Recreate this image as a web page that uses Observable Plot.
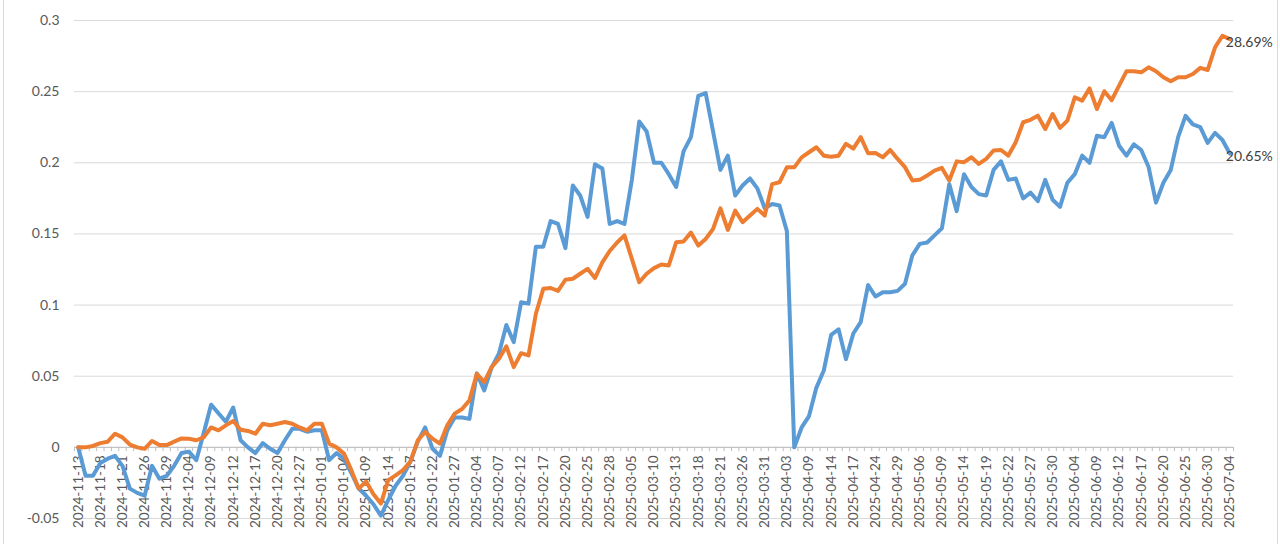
<!DOCTYPE html>
<html>
<head>
<meta charset="utf-8">
<script src="https://cdn.jsdelivr.net/npm/d3@7"></script>
<script src="https://cdn.jsdelivr.net/npm/@observablehq/plot@0.6"></script>
<style>
  html, body { margin: 0; padding: 0; background: #fff; }
  #wrap { position: relative; width: 1280px; height: 544px; overflow: hidden; }
  #wrap .edge { position: absolute; top: 0; bottom: 0; width: 1px; background: #d9d9d9; }
</style>
</head>
<body>
<div id="wrap"><div class="edge" style="left:3px"></div><div class="edge" style="left:1277px"></div></div>
<script>
// Trading dates (category axis)
const dates = [
  "2024-11-13","2024-11-14","2024-11-15","2024-11-18","2024-11-19","2024-11-20","2024-11-21","2024-11-22","2024-11-25","2024-11-26","2024-11-27","2024-11-28","2024-11-29",
  "2024-12-02","2024-12-03","2024-12-04","2024-12-05","2024-12-06","2024-12-09","2024-12-10","2024-12-11","2024-12-12","2024-12-13","2024-12-16","2024-12-17","2024-12-18","2024-12-19","2024-12-20","2024-12-23","2024-12-24","2024-12-27","2024-12-30","2024-12-31",
  "2025-01-01","2025-01-02","2025-01-03","2025-01-06","2025-01-07","2025-01-08","2025-01-09","2025-01-10","2025-01-13","2025-01-14","2025-01-15","2025-01-16","2025-01-17","2025-01-20","2025-01-21","2025-01-22","2025-01-23","2025-01-24","2025-01-27","2025-01-28",
  "2025-02-03","2025-02-04","2025-02-05","2025-02-06","2025-02-07","2025-02-10","2025-02-11","2025-02-12","2025-02-13","2025-02-14","2025-02-17","2025-02-18","2025-02-19","2025-02-20","2025-02-21","2025-02-24","2025-02-25","2025-02-26","2025-02-27","2025-02-28",
  "2025-03-03","2025-03-04","2025-03-05","2025-03-06","2025-03-07","2025-03-10","2025-03-11","2025-03-12","2025-03-13","2025-03-14","2025-03-17","2025-03-18","2025-03-19","2025-03-20","2025-03-21","2025-03-24","2025-03-25","2025-03-26","2025-03-27","2025-03-28","2025-03-31",
  "2025-04-01","2025-04-02","2025-04-03","2025-04-07","2025-04-08","2025-04-09","2025-04-10","2025-04-11","2025-04-14","2025-04-15","2025-04-16","2025-04-17","2025-04-22","2025-04-23","2025-04-24","2025-04-25","2025-04-28","2025-04-29","2025-04-30",
  "2025-05-02","2025-05-06","2025-05-07","2025-05-08","2025-05-09","2025-05-12","2025-05-13","2025-05-14","2025-05-15","2025-05-16","2025-05-19","2025-05-20","2025-05-21","2025-05-22","2025-05-23","2025-05-26","2025-05-27","2025-05-28","2025-05-29","2025-05-30",
  "2025-06-02","2025-06-03","2025-06-04","2025-06-05","2025-06-06","2025-06-09","2025-06-10","2025-06-11","2025-06-12","2025-06-13","2025-06-16","2025-06-17","2025-06-18","2025-06-19","2025-06-20","2025-06-23","2025-06-24","2025-06-25","2025-06-26","2025-06-27","2025-06-30",
  "2025-07-02","2025-07-03","2025-07-04"
];

// Blue series (cumulative return)
const blueValues = [
  0, -0.020, -0.020, -0.011, -0.008, -0.006, -0.013, -0.029, -0.032, -0.034, -0.013, -0.022, -0.020,
  -0.013, -0.004, -0.003, -0.009, 0.010, 0.030, 0.024, 0.018, 0.028, 0.005, 0.000, -0.004, 0.003, -0.001, -0.004, 0.005, 0.013, 0.013, 0.011, 0.012,
  0.012, -0.009, -0.004, -0.008, -0.018, -0.029, -0.034, -0.040, -0.048, -0.037, -0.027, -0.020, -0.010, 0.004, 0.014, -0.001, -0.006, 0.012, 0.021, 0.021,
  0.020, 0.052, 0.040, 0.056, 0.066, 0.086, 0.074, 0.102, 0.101, 0.141, 0.141, 0.159, 0.157, 0.140, 0.184, 0.177, 0.162, 0.199, 0.196, 0.157,
  0.159, 0.157, 0.188, 0.229, 0.222, 0.200, 0.200, 0.192, 0.183, 0.208, 0.218, 0.247, 0.249, 0.222, 0.195, 0.205, 0.177, 0.184, 0.189, 0.182, 0.168,
  0.171, 0.170, 0.152, 0.000, 0.014, 0.022, 0.042, 0.054, 0.079, 0.083, 0.062, 0.080, 0.088, 0.114, 0.106, 0.109, 0.109, 0.110, 0.115,
  0.135, 0.143, 0.144, 0.149, 0.154, 0.185, 0.166, 0.192, 0.183, 0.178, 0.177, 0.195, 0.201, 0.188, 0.189, 0.175, 0.179, 0.173, 0.188, 0.174,
  0.169, 0.186, 0.192, 0.205, 0.200, 0.219, 0.218, 0.228, 0.212, 0.205, 0.213, 0.209, 0.197, 0.172, 0.186, 0.195, 0.218, 0.233, 0.227, 0.225, 0.214,
  0.221, 0.216, 0.2065
];

// Orange series (cumulative return)
const orangeValues = [
  0, 0.000, 0.001, 0.003, 0.004, 0.0096, 0.007, 0.002, 0.000, -0.001, 0.0045, 0.0016, 0.0016,
  0.004, 0.0063, 0.006, 0.005, 0.007, 0.014, 0.012, 0.0155, 0.0185, 0.0124, 0.0115, 0.0096, 0.0166, 0.0155, 0.0166, 0.0178, 0.0166, 0.014, 0.012, 0.0166,
  0.0166, 0.0026, 0.000, -0.0044, -0.016, -0.029, -0.024, -0.033, -0.0395, -0.023, -0.0197, -0.016, -0.010, 0.0049, 0.0108, 0.0061, 0.0026, 0.0155, 0.0237, 0.027,
  0.033, 0.0517, 0.0459, 0.0564, 0.0623, 0.071, 0.0564, 0.0662, 0.0646, 0.0939, 0.1114, 0.112, 0.110, 0.1178, 0.1185, 0.122, 0.1255, 0.119, 0.130, 0.138,
  0.144, 0.149, 0.1325, 0.116, 0.122, 0.126, 0.1285, 0.1278, 0.1441, 0.1446, 0.151, 0.1418, 0.1465, 0.1535, 0.168, 0.1528, 0.1664, 0.1582, 0.1629, 0.1676, 0.1629,
  0.185, 0.1863, 0.1968, 0.1968, 0.2038, 0.2074, 0.2109, 0.205, 0.2043, 0.205, 0.2133, 0.210, 0.218, 0.2067, 0.2069, 0.2039, 0.209, 0.2027, 0.1969,
  0.1875, 0.188, 0.191, 0.1945, 0.1964, 0.1875, 0.201, 0.2004, 0.2039, 0.1992, 0.2027, 0.2086, 0.209, 0.2051, 0.2144, 0.2285, 0.2302, 0.2331, 0.2237, 0.2343,
  0.2245, 0.2296, 0.246, 0.2437, 0.2523, 0.2378, 0.2503, 0.244, 0.2542, 0.2643, 0.2643, 0.2636, 0.2671, 0.2643, 0.2601, 0.2573, 0.2601, 0.2601, 0.2624, 0.2667, 0.2652,
  0.2811, 0.2893, 0.2869
];

const yTicks = [-0.05, 0, 0.05, 0.1, 0.15, 0.2, 0.25, 0.3];
const labelStep = 3;
const endLabelBlue = "20.65%";
const endLabelOrange = "28.69%";

const idx = dates.map((d, i) => i);
const labelIdx = idx.filter(i => i % labelStep === 0);
const boundaries = d3.range(dates.length + 1).map(k => k - 0.5);
const last = dates.length - 1;
const fmt = d => String(Math.round(d * 100) / 100);
const FONT = "Lato, 'Open Sans', sans-serif";

const chart = Plot.plot({
  width: 1280,
  height: 544,
  marginLeft: 74,
  marginRight: 47,
  marginTop: 20,
  marginBottom: 26,
  style: { fontFamily: FONT, background: "transparent" },
  x: { type: "linear", domain: [-0.5, dates.length - 0.5], axis: null },
  y: { domain: [-0.05, 0.3], axis: null },
  marks: [
    Plot.ruleY(yTicks, { stroke: "#d9d9d9", strokeWidth: 1 }),
    Plot.ruleY([0], { stroke: "#bfbfbf", strokeWidth: 1 }),
    Plot.ruleX(boundaries, { x: d => d, y1: 0, y2: -0.003, stroke: "#bfbfbf", strokeWidth: 1 }),
    Plot.axisY({ ticks: yTicks, tickFormat: fmt, tickSize: 0, tickPadding: 15, fontSize: 14, fill: "#595959", fontFamily: FONT, label: null }),
    Plot.text(labelIdx, {
      x: d => d, y: () => 0, text: d => dates[d],
      rotate: -90, textAnchor: "end", lineAnchor: "middle",
      dy: 8, fontSize: 13.5, fill: "#595959", fontFamily: FONT
    }),
    Plot.line(idx, { x: d => d, y: d => blueValues[d], stroke: "#5b9bd5", strokeWidth: 4, strokeLinejoin: "round", strokeLinecap: "round" }),
    Plot.line(idx, { x: d => d, y: d => orangeValues[d], stroke: "#ed7d31", strokeWidth: 4, strokeLinejoin: "round", strokeLinecap: "round" }),
    Plot.text([last], { x: d => d, y: d => orangeValues[d], text: () => endLabelOrange, textAnchor: "start", dx: -4, dy: 3, fontSize: 14, fill: "#404040", fontFamily: FONT }),
    Plot.text([last], { x: d => d, y: d => blueValues[d], text: () => endLabelBlue, textAnchor: "start", dx: -4, dy: 3, fontSize: 14, fill: "#404040", fontFamily: FONT })
  ]
});
chart.style.position = "absolute";
chart.style.left = "0";
chart.style.top = "0";
document.getElementById("wrap").appendChild(chart);
</script>
</body>
</html>
